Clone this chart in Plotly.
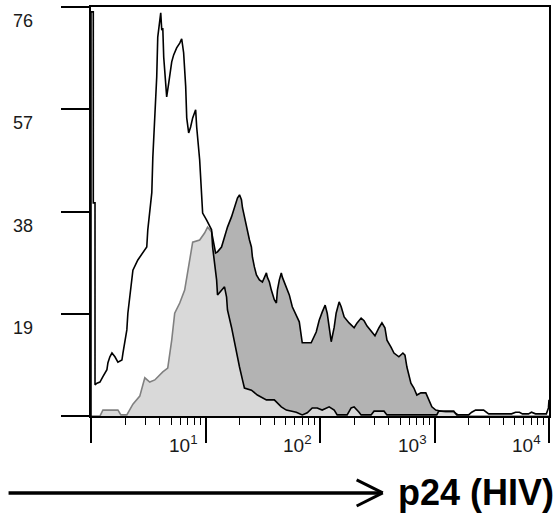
import plotly.graph_objects as go

# Unstained / control histogram (open black outline): log10 fluorescence vs. event count
open_log_fl = [0.000, 0.000, 0.020, 0.020, 0.035, 0.035, 0.052, 0.078, 0.104, 0.139, 0.148,
               0.165, 0.183, 0.209, 0.235, 0.270, 0.279, 0.296, 0.313, 0.322, 0.339,
               0.357, 0.366, 0.409, 0.453, 0.487, 0.496, 0.513, 0.531, 0.540, 0.557,
               0.574, 0.583, 0.601, 0.609, 0.618, 0.627, 0.635, 0.653, 0.661, 0.679,
               0.696, 0.705, 0.722, 0.748, 0.775, 0.792, 0.809, 0.827, 0.836, 0.853,
               0.870, 0.888, 0.914, 0.923, 0.949, 0.966, 0.975, 1.010, 1.036, 1.053,
               1.062, 1.079, 1.097, 1.105, 1.140, 1.166, 1.184, 1.192, 1.227, 1.253,
               1.271, 1.297, 1.323, 1.340, 1.401, 1.453, 1.532, 1.601, 1.662, 1.706,
               1.793, 1.845, 1.889, 1.932, 1.976, 2.019, 2.080, 2.124, 2.150, 2.237,
               2.272, 2.298, 2.341, 2.359, 2.446, 2.472, 2.559, 2.585, 3.020, 3.037,
               3.168, 3.194, 3.298, 3.325, 3.359, 3.429, 3.473, 3.673, 3.708, 3.742,
               3.768, 3.821, 3.847, 3.882, 3.977, 3.995, 4.000]
open_counts = [0.0, 75.1, 75.1, 39.6, 39.6, 5.8, 6.1, 6.3, 7.3, 8.6, 9.9,
               11.0, 11.7, 11.0, 10.0, 10.4, 11.7, 13.6, 16.0, 19.1, 22.1,
               25.3, 27.1, 29.0, 30.5, 31.4, 34.6, 37.7, 41.5, 48.1, 55.6,
               63.0, 70.4, 74.5, 74.9, 71.7, 72.1, 66.7, 61.5, 59.3, 61.9,
               64.3, 65.8, 67.1, 68.4, 69.3, 70.1, 67.5, 61.2, 55.4, 52.6,
               53.7, 55.4, 56.9, 53.7, 47.6, 41.6, 37.7, 36.4, 35.1, 34.6,
               31.4, 28.4, 25.3, 22.5, 23.4, 24.0, 22.1, 19.7, 16.5, 13.6,
               11.7, 9.1, 6.7, 5.2, 4.8, 3.9, 3.0, 3.0, 1.7, 1.1,
               0.7, 0.2, 0.6, 1.5, 1.5, 1.1, 1.7, 1.1, 0.2, 0.2,
               1.5, 1.7, 0.7, 0.2, 0.2, 0.9, 0.9, 0.2, 0.2, 0.9,
               0.9, 0.2, 0.2, 0.7, 1.1, 1.1, 0.4, 0.4, 0.7, 0.7,
               0.4, 0.4, 0.7, 0.4, 0.4, 1.5, 3.0]

# p24-stained histogram (shaded): log10 fluorescence vs. event count
shaded_log_fl = [0.000, 0.078, 0.104, 0.235, 0.261, 0.313, 0.366, 0.426, 0.470, 0.513,
                 0.557, 0.627, 0.670, 0.705, 0.731, 0.775, 0.818, 0.862, 0.888, 0.949,
                 0.992, 1.018, 1.053, 1.088, 1.105, 1.140, 1.166, 1.192, 1.227, 1.253,
                 1.279, 1.297, 1.314, 1.323, 1.340, 1.358, 1.366, 1.384, 1.401, 1.410,
                 1.427, 1.445, 1.471, 1.497, 1.514, 1.532, 1.540, 1.558, 1.575, 1.601,
                 1.619, 1.628, 1.645, 1.662, 1.671, 1.688, 1.706, 1.732, 1.758, 1.793,
                 1.819, 1.845, 1.923, 1.967, 1.993, 2.019, 2.045, 2.063, 2.080, 2.098,
                 2.124, 2.141, 2.167, 2.185, 2.211, 2.254, 2.298, 2.324, 2.359, 2.385,
                 2.411, 2.446, 2.480, 2.515, 2.541, 2.567, 2.585, 2.620, 2.646, 2.689,
                 2.724, 2.742, 2.759, 2.794, 2.820, 2.846, 2.881, 2.924, 2.950, 2.977,
                 3.011, 3.098, 3.168, 3.194, 3.211, 4.000]
shaded_counts = [0.0, 0.0, 1.1, 1.1, 0.2, 0.2, 2.2, 3.7, 7.1, 6.3,
                 6.7, 8.2, 8.9, 14.1, 19.1, 21.0, 23.4, 29.4, 32.3, 32.7,
                 34.0, 35.1, 34.2, 30.3, 30.5, 31.4, 33.3, 35.1, 37.0, 38.7,
                 40.5, 41.1, 40.2, 38.7, 37.0, 35.1, 34.0, 32.7, 31.4, 29.5,
                 27.7, 26.2, 25.3, 24.9, 25.7, 26.6, 25.8, 24.9, 23.4, 21.6,
                 21.0, 23.4, 25.3, 26.6, 25.8, 24.9, 24.0, 22.5, 20.3, 18.8,
                 17.5, 13.6, 13.6, 15.6, 17.8, 19.3, 20.6, 19.1, 16.5, 13.8,
                 16.5, 19.1, 21.2, 20.3, 18.4, 17.3, 16.4, 17.3, 18.2, 17.7,
                 16.7, 15.8, 14.9, 16.4, 17.3, 16.4, 14.1, 12.8, 11.7, 11.0,
                 11.7, 11.3, 9.1, 6.1, 5.2, 3.9, 4.3, 4.3, 3.0, 1.7,
                 1.1, 0.7, 0.7, 0.4, 0.0, 0.0]

count_ticks = [0, 19, 38, 57, 76]
count_tick_labels = ["", "19", "38", "57", "76"]
decade_ticks = [1, 10, 100, 1000, 10000]
decade_tick_labels = ["", "10<sup>1</sup>", "10<sup>2</sup>", "10<sup>3</sup>", "10<sup>4</sup>"]
axis_title = "p24 (HIV)"

FONT = "Liberation Sans, Arial, Helvetica, sans-serif"

fig = go.Figure()

# shaded histogram first, the open histogram's translucent white fill lightens it where they overlap
fig.add_trace(go.Scatter(
    x=[10 ** c for c in shaded_log_fl], y=shaded_counts,
    mode="lines", fill="tozeroy", fillcolor="#b3b3b3",
    line=dict(color="black", width=1.6), hoverinfo="skip", showlegend=False,
))
fig.add_trace(go.Scatter(
    x=[10 ** c for c in open_log_fl], y=open_counts,
    mode="lines", fill="tozeroy", fillcolor="rgba(255,255,255,0.5)",
    line=dict(color="black", width=1.6), hoverinfo="skip", showlegend=False,
))

minor_vals = [m * d for d in decade_ticks[:-1] for m in range(2, 10)]

fig.update_xaxes(
    type="log", range=[0, 4],
    tickmode="array", tickvals=decade_ticks, showticklabels=False,
    ticks="outside", ticklen=25, tickwidth=1.6, tickcolor="black",
    minor=dict(tickmode="array", tickvals=minor_vals, ticks="outside",
               ticklen=7, tickwidth=1.4, tickcolor="black", showgrid=False),
    showline=True, linecolor="black", linewidth=2, mirror=True,
    showgrid=False, zeroline=False,
)
fig.update_yaxes(
    range=[0, 76],
    tickmode="array", tickvals=count_ticks, showticklabels=False,
    ticks="outside", ticklen=28, tickwidth=2, tickcolor="black",
    showline=True, linecolor="black", linewidth=2, mirror=True,
    showgrid=False, zeroline=False,
)

annotations = []
for v, t in zip(count_ticks, count_tick_labels):
    if t:
        annotations.append(dict(
            x=0, xref="paper", y=v, yref="y", text=t, showarrow=False,
            xanchor="left", yanchor="middle", xshift=-80, yshift=-14,
            font=dict(family=FONT, size=18, color="#1a1a1a"),
        ))
for v, t in zip(decade_ticks, decade_tick_labels):
    if t:
        annotations.append(dict(
            x=len(str(v)) - 1, xref="x", y=0, yref="paper", text=t, showarrow=False,
            xanchor="right", yanchor="top", xshift=-6, yshift=-14,
            font=dict(family=FONT, size=19, color="#1a1a1a"),
        ))
annotations.append(dict(
    x=0.667, xref="paper", y=-0.188, yref="paper", text="<b>" + axis_title + "</b>",
    showarrow=False, xanchor="left", yanchor="middle",
    font=dict(family=FONT, size=36, color="black"),
))

# arrow pointing along the fluorescence axis
arrow = dict(type="line", xref="paper", yref="paper", line=dict(color="black", width=3.5))
shapes = [
    dict(arrow, x0=-0.180, y0=-0.188, x1=0.635, y1=-0.188),
    dict(arrow, x0=0.580, y0=-0.156, x1=0.637, y1=-0.188, line=dict(color="black", width=3)),
    dict(arrow, x0=0.580, y0=-0.220, x1=0.637, y1=-0.188, line=dict(color="black", width=3)),
]

fig.update_layout(
    width=555, height=520,
    margin=dict(l=91, r=4, t=7, b=104),
    paper_bgcolor="white", plot_bgcolor="white",
    annotations=annotations, shapes=shapes,
    font=dict(family=FONT),
)

fig.write_html("out.html")
